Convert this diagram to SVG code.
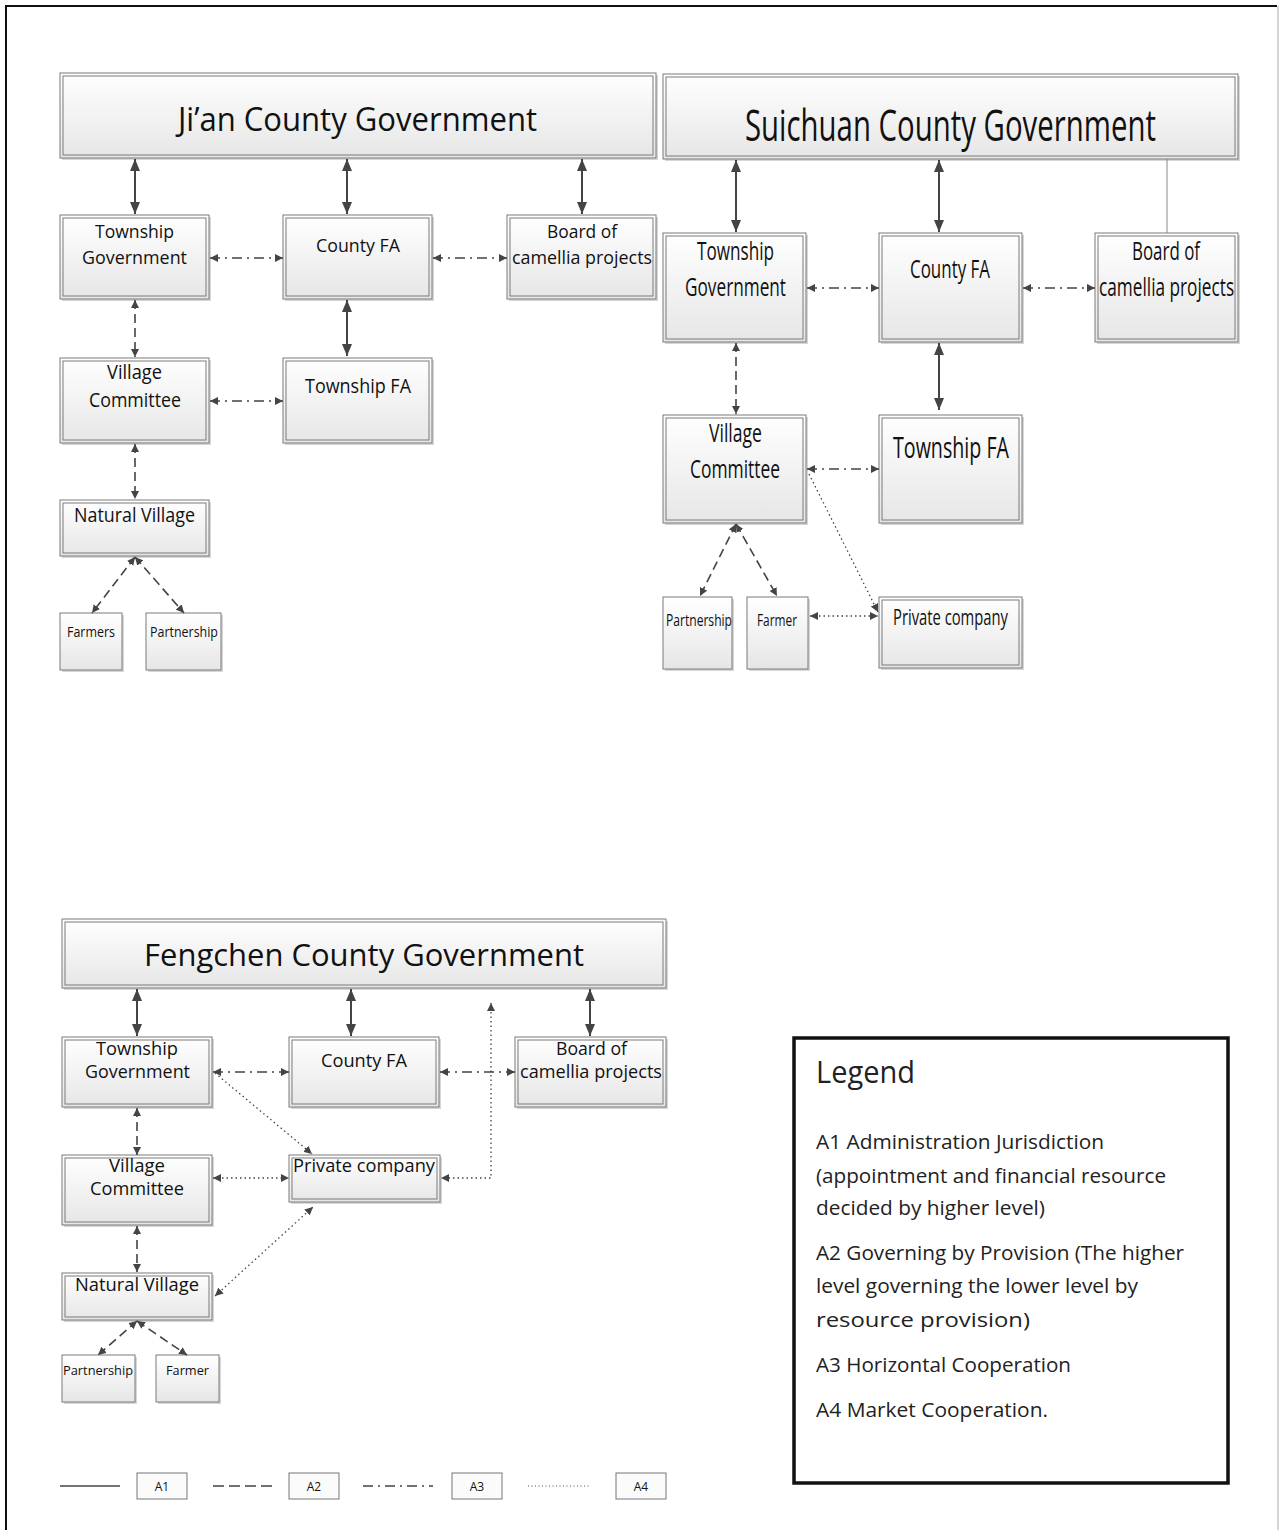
<svg xmlns="http://www.w3.org/2000/svg" width="1279" height="1530" viewBox="0 0 1279 1530">
  <defs>
    <linearGradient id="fillGrad" x1="0" y1="0" x2="0" y2="1">
      <stop offset="0" stop-color="#ffffff"/>
      <stop offset="1" stop-color="#e6e6e6"/>
    </linearGradient>
    <!-- large head for solid (A1) links -->
    <marker id="headL" viewBox="0 0 12 10" refX="12" refY="5" markerWidth="12" markerHeight="10" markerUnits="userSpaceOnUse" orient="auto-start-reverse">
      <path d="M0,0 L12,5 L0,10 z" fill="#444"/>
    </marker>
    <!-- small head for dashed / dash-dot / dotted links -->
    <marker id="headS" viewBox="0 0 8 8" refX="8" refY="4" markerWidth="8" markerHeight="8" markerUnits="userSpaceOnUse" orient="auto-start-reverse">
      <path d="M0,0 L8,4 L0,8 z" fill="#444"/>
    </marker>
    <style>
      .sh { fill: #d6d6d6; }
      .o { fill: url(#fillGrad); stroke: #7a7a7a; stroke-width: 1; }
      .i { fill: none; stroke: #7a7a7a; stroke-width: 1; }
      .t { font-family: "Open Sans", "Noto Sans", "DejaVu Sans", sans-serif; fill: #111; }
      .lg { font-family: "Open Sans", "Noto Sans", "DejaVu Sans", sans-serif; fill: #222; }
      .c { text-anchor: middle; }
      .a1 { stroke: #444; stroke-width: 2; fill: none; }
      .a2 { stroke: #444; stroke-width: 1.6; fill: none; stroke-dasharray: 9 5; }
      .a3 { stroke: #444; stroke-width: 1.4; fill: none; stroke-dasharray: 10 5 2 5; }
      .a4 { stroke: #444; stroke-width: 1.3; fill: none; stroke-dasharray: 1.5 3; }
      .hL { marker-start: url(#headL); marker-end: url(#headL); }
      .hS { marker-start: url(#headS); marker-end: url(#headS); }
      .eS { marker-end: url(#headS); }
    </style>
  </defs>

  <rect x="0" y="0" width="1279" height="1530" fill="#ffffff"/>
  <!-- page frame -->
  <path d="M6,1530 V6 H1277" fill="none" stroke="#111" stroke-width="2"/>
  <path d="M1278,6 V1530" fill="none" stroke="#aaa" stroke-width="1"/>

  <!-- ===================== Ji'an ===================== -->
  <g id="jian-county-gov">
    <rect class="sh" x="62" y="75" width="596" height="85"/>
    <rect class="o" x="60" y="73" width="596" height="85"/>
    <rect class="i" x="63" y="76" width="590" height="79"/>
    <text class="t" x="178" y="131" font-size="32" textLength="359" lengthAdjust="spacingAndGlyphs">Ji’an County Government</text>
  </g>
  <g id="jian-township-gov">
    <rect class="sh" x="62" y="217" width="149" height="84"/>
    <rect class="o" x="60" y="215" width="149" height="84"/>
    <rect class="i" x="63" y="218" width="143" height="78"/>
    <text class="t" x="95" y="238" font-size="19" textLength="79" lengthAdjust="spacingAndGlyphs">Township</text>
    <text class="t" x="82" y="264" font-size="19" textLength="105" lengthAdjust="spacingAndGlyphs">Government</text>
  </g>
  <g id="jian-county-fa">
    <rect class="sh" x="285" y="217" width="149" height="84"/>
    <rect class="o" x="283" y="215" width="149" height="84"/>
    <rect class="i" x="286" y="218" width="143" height="78"/>
    <text class="t" x="316" y="252" font-size="19" textLength="84" lengthAdjust="spacingAndGlyphs">County FA</text>
  </g>
  <g id="jian-board">
    <rect class="sh" x="509" y="217" width="149" height="84"/>
    <rect class="o" x="507" y="215" width="149" height="84"/>
    <rect class="i" x="510" y="218" width="143" height="78"/>
    <text class="t" x="547" y="238" font-size="19" textLength="70" lengthAdjust="spacingAndGlyphs">Board of</text>
    <text class="t" x="512" y="264" font-size="19" textLength="140" lengthAdjust="spacingAndGlyphs">camellia projects</text>
  </g>
  <g id="jian-village-committee">
    <rect class="sh" x="62" y="360" width="149" height="85"/>
    <rect class="o" x="60" y="358" width="149" height="85"/>
    <rect class="i" x="63" y="361" width="143" height="79"/>
    <text class="t" x="107" y="379" font-size="20" textLength="55" lengthAdjust="spacingAndGlyphs">Village</text>
    <text class="t" x="89" y="407" font-size="20" textLength="92" lengthAdjust="spacingAndGlyphs">Committee</text>
  </g>
  <g id="jian-township-fa">
    <rect class="sh" x="285" y="360" width="149" height="85"/>
    <rect class="o" x="283" y="358" width="149" height="85"/>
    <rect class="i" x="286" y="361" width="143" height="79"/>
    <text class="t" x="305" y="393" font-size="20" textLength="106" lengthAdjust="spacingAndGlyphs">Township FA</text>
  </g>
  <g id="jian-natural-village">
    <rect class="sh" x="62" y="502" width="149" height="56"/>
    <rect class="o" x="60" y="500" width="149" height="56"/>
    <rect class="i" x="63" y="503" width="143" height="50"/>
    <text class="t" x="74" y="522" font-size="20" textLength="121" lengthAdjust="spacingAndGlyphs">Natural Village</text>
  </g>
  <g id="jian-farmers">
    <rect class="sh" x="62" y="615" width="62" height="57"/>
    <rect class="o" x="60" y="613" width="62" height="57"/>
    <text class="t" x="67" y="637" font-size="14" textLength="48" lengthAdjust="spacingAndGlyphs">Farmers</text>
  </g>
  <g id="jian-partnership">
    <rect class="sh" x="148" y="615" width="75" height="57"/>
    <rect class="o" x="146" y="613" width="75" height="57"/>
    <text class="t" x="150" y="637" font-size="14" textLength="68" lengthAdjust="spacingAndGlyphs">Partnership</text>
  </g>

  <!-- ===================== Suichuan ===================== -->
  <g id="suichuan-county-gov">
    <rect class="sh" x="665" y="76" width="575" height="85"/>
    <rect class="o" x="663" y="74" width="575" height="85"/>
    <rect class="i" x="666" y="77" width="569" height="79"/>
    <text class="t" transform="matrix(0.7 0 0 1 745 141)" x="0" y="0" font-size="43" textLength="587" lengthAdjust="spacingAndGlyphs">Suichuan County Government</text>
  </g>
  <g id="suichuan-township-gov">
    <rect class="sh" x="665" y="235" width="143" height="109"/>
    <rect class="o" x="663" y="233" width="143" height="109"/>
    <rect class="i" x="666" y="236" width="137" height="103"/>
    <text class="t" x="697" y="260" font-size="25" textLength="77" lengthAdjust="spacingAndGlyphs">Township</text>
    <text class="t" x="685" y="296" font-size="25" textLength="101" lengthAdjust="spacingAndGlyphs">Government</text>
  </g>
  <g id="suichuan-county-fa">
    <rect class="sh" x="881" y="235" width="143" height="109"/>
    <rect class="o" x="879" y="233" width="143" height="109"/>
    <rect class="i" x="882" y="236" width="137" height="103"/>
    <text class="t" x="910" y="278" font-size="25" textLength="80" lengthAdjust="spacingAndGlyphs">County FA</text>
  </g>
  <g id="suichuan-board">
    <rect class="sh" x="1097" y="235" width="143" height="109"/>
    <rect class="o" x="1095" y="233" width="143" height="109"/>
    <rect class="i" x="1098" y="236" width="137" height="103"/>
    <text class="t" x="1132" y="260" font-size="25" textLength="68" lengthAdjust="spacingAndGlyphs">Board of</text>
    <text class="t" transform="matrix(0.7 0 0 1 1099 296)" x="0" y="0" font-size="25" textLength="193" lengthAdjust="spacingAndGlyphs">camellia projects</text>
  </g>
  <g id="suichuan-village-committee">
    <rect class="sh" x="665" y="417" width="143" height="108"/>
    <rect class="o" x="663" y="415" width="143" height="108"/>
    <rect class="i" x="666" y="418" width="137" height="102"/>
    <text class="t" x="709" y="442" font-size="25" textLength="53" lengthAdjust="spacingAndGlyphs">Village</text>
    <text class="t" x="690" y="478" font-size="25" textLength="90" lengthAdjust="spacingAndGlyphs">Committee</text>
  </g>
  <g id="suichuan-township-fa">
    <rect class="sh" x="881" y="417" width="143" height="108"/>
    <rect class="o" x="879" y="415" width="143" height="108"/>
    <rect class="i" x="882" y="418" width="137" height="102"/>
    <text class="t" x="893" y="458" font-size="29" textLength="116" lengthAdjust="spacingAndGlyphs">Township FA</text>
  </g>
  <g id="suichuan-partnership">
    <rect class="sh" x="665" y="599" width="69" height="72"/>
    <rect class="o" x="663" y="597" width="69" height="72"/>
    <text class="t" x="666" y="626" font-size="17" textLength="66" lengthAdjust="spacingAndGlyphs">Partnership</text>
  </g>
  <g id="suichuan-farmer">
    <rect class="sh" x="749" y="599" width="61" height="72"/>
    <rect class="o" x="747" y="597" width="61" height="72"/>
    <text class="t" x="757" y="626" font-size="17" textLength="40" lengthAdjust="spacingAndGlyphs">Farmer</text>
  </g>
  <g id="suichuan-private-company">
    <rect class="sh" x="881" y="599" width="143" height="71"/>
    <rect class="o" x="879" y="597" width="143" height="71"/>
    <rect class="i" x="882" y="600" width="137" height="65"/>
    <text class="t" x="893" y="625" font-size="22" textLength="115" lengthAdjust="spacingAndGlyphs">Private company</text>
  </g>

  <!-- ===================== Fengchen ===================== -->
  <g id="fengchen-county-gov">
    <rect class="sh" x="64" y="921" width="604" height="69"/>
    <rect class="o" x="62" y="919" width="604" height="69"/>
    <rect class="i" x="65" y="922" width="598" height="63"/>
    <text class="t" x="144" y="966" font-size="31" textLength="440" lengthAdjust="spacingAndGlyphs">Fengchen County Government</text>
  </g>
  <g id="fengchen-township-gov">
    <rect class="sh" x="64" y="1039" width="150" height="70"/>
    <rect class="o" x="62" y="1037" width="150" height="70"/>
    <rect class="i" x="65" y="1040" width="144" height="64"/>
    <text class="t" x="96" y="1055" font-size="17.5" textLength="82" lengthAdjust="spacingAndGlyphs">Township</text>
    <text class="t" x="85" y="1078" font-size="17.5" textLength="105" lengthAdjust="spacingAndGlyphs">Government</text>
  </g>
  <g id="fengchen-county-fa">
    <rect class="sh" x="291" y="1039" width="150" height="70"/>
    <rect class="o" x="289" y="1037" width="150" height="70"/>
    <rect class="i" x="292" y="1040" width="144" height="64"/>
    <text class="t" x="321" y="1067" font-size="17.5" textLength="86" lengthAdjust="spacingAndGlyphs">County FA</text>
  </g>
  <g id="fengchen-board">
    <rect class="sh" x="517" y="1039" width="151" height="70"/>
    <rect class="o" x="515" y="1037" width="151" height="70"/>
    <rect class="i" x="518" y="1040" width="145" height="64"/>
    <text class="t" x="556" y="1055" font-size="17.5" textLength="71" lengthAdjust="spacingAndGlyphs">Board of</text>
    <text class="t" x="520" y="1078" font-size="17.5" textLength="142" lengthAdjust="spacingAndGlyphs">camellia projects</text>
  </g>
  <g id="fengchen-village-committee">
    <rect class="sh" x="64" y="1157" width="150" height="70"/>
    <rect class="o" x="62" y="1155" width="150" height="70"/>
    <rect class="i" x="65" y="1158" width="144" height="64"/>
    <text class="t" x="109" y="1172" font-size="17.5" textLength="56" lengthAdjust="spacingAndGlyphs">Village</text>
    <text class="t" x="90" y="1195" font-size="17.5" textLength="94" lengthAdjust="spacingAndGlyphs">Committee</text>
  </g>
  <g id="fengchen-private-company">
    <rect class="sh" x="291" y="1157" width="151" height="47"/>
    <rect class="o" x="289" y="1155" width="151" height="47"/>
    <rect class="i" x="292" y="1158" width="145" height="41"/>
    <text class="t" x="293" y="1172" font-size="17.5" textLength="142" lengthAdjust="spacingAndGlyphs">Private company</text>
  </g>
  <g id="fengchen-natural-village">
    <rect class="sh" x="64" y="1275" width="150" height="47"/>
    <rect class="o" x="62" y="1273" width="150" height="47"/>
    <rect class="i" x="65" y="1276" width="144" height="41"/>
    <text class="t" x="75" y="1291" font-size="17.5" textLength="124" lengthAdjust="spacingAndGlyphs">Natural Village</text>
  </g>
  <g id="fengchen-partnership">
    <rect class="sh" x="64" y="1357" width="73" height="47"/>
    <rect class="o" x="62" y="1355" width="73" height="47"/>
    <text class="t" x="63" y="1375" font-size="13" textLength="70" lengthAdjust="spacingAndGlyphs">Partnership</text>
  </g>
  <g id="fengchen-farmer">
    <rect class="sh" x="158" y="1357" width="63" height="47"/>
    <rect class="o" x="156" y="1355" width="63" height="47"/>
    <text class="t" x="166" y="1375" font-size="13" textLength="43" lengthAdjust="spacingAndGlyphs">Farmer</text>
  </g>

  <!-- ===================== connectors ===================== -->
  <g id="connectors">
    <!-- Ji'an -->
    <line class="a1 hL" x1="135" y1="159" x2="135" y2="214"/>
    <line class="a1 hL" x1="347" y1="159" x2="347" y2="214"/>
    <line class="a1 hL" x1="582" y1="159" x2="582" y2="214"/>
    <line class="a3 hS" x1="210" y1="258" x2="283" y2="258"/>
    <line class="a3 hS" x1="433" y1="258" x2="507" y2="258"/>
    <line class="a1 hL" x1="347" y1="300" x2="347" y2="356"/>
    <line class="a2 hS" x1="135" y1="300" x2="135" y2="357"/>
    <line class="a3 hS" x1="210" y1="401" x2="283" y2="401"/>
    <line class="a2 hS" x1="135" y1="444" x2="135" y2="499"/>
    <line class="a2 hS" x1="135" y1="557" x2="92" y2="613"/>
    <line class="a2 hS" x1="135" y1="557" x2="184" y2="613"/>

    <!-- Suichuan -->
    <line class="a1 hL" x1="736" y1="160" x2="736" y2="232"/>
    <line class="a1 hL" x1="939" y1="160" x2="939" y2="232"/>
    <line x1="1167" y1="159" x2="1167" y2="233" stroke="#888" stroke-width="1"/>
    <line class="a3 hS" x1="807" y1="288" x2="879" y2="288"/>
    <line class="a3 hS" x1="1023" y1="288" x2="1095" y2="288"/>
    <line class="a1 hL" x1="939" y1="343" x2="939" y2="410"/>
    <line class="a2 hS" x1="736" y1="343" x2="736" y2="414"/>
    <line class="a3 hS" x1="807" y1="469" x2="879" y2="469"/>
    <line class="a4 eS" x1="809" y1="474" x2="878" y2="612"/>
    <line class="a4 hS" x1="810" y1="616" x2="878" y2="616"/>
    <line class="a2 hS" x1="736" y1="524" x2="700" y2="596"/>
    <line class="a2 hS" x1="736" y1="524" x2="777" y2="596"/>

    <!-- Fengchen -->
    <line class="a1 hL" x1="137" y1="989" x2="137" y2="1036"/>
    <line class="a1 hL" x1="351" y1="989" x2="351" y2="1036"/>
    <line class="a1 hL" x1="590" y1="989" x2="590" y2="1036"/>
    <polyline class="a4 hS" points="491,1003 491,1178 441,1178"/>
    <line class="a3 hS" x1="213" y1="1072" x2="289" y2="1072"/>
    <line class="a3 hS" x1="440" y1="1072" x2="515" y2="1072"/>
    <line class="a4 eS" x1="215" y1="1073" x2="312" y2="1154"/>
    <line class="a2 hS" x1="137" y1="1108" x2="137" y2="1155"/>
    <line class="a4 hS" x1="213" y1="1178" x2="289" y2="1178"/>
    <line class="a2 hS" x1="137" y1="1226" x2="137" y2="1272"/>
    <line class="a4 hS" x1="215" y1="1296" x2="313" y2="1207"/>
    <line class="a2 hS" x1="137" y1="1321" x2="98" y2="1355"/>
    <line class="a2 hS" x1="137" y1="1321" x2="187" y2="1355"/>
  </g>

  <!-- ===================== line-style key ===================== -->
  <g id="line-key">
    <line x1="60" y1="1486" x2="120" y2="1486" stroke="#444" stroke-width="1.3"/>
    <rect x="137" y="1473" width="50" height="26" fill="#fbfbfb" stroke="#777" stroke-width="1"/>
    <text class="t c" x="162" y="1491" font-size="12">A1</text>
    <line x1="213" y1="1486" x2="277" y2="1486" stroke="#444" stroke-width="1.3" stroke-dasharray="11 5"/>
    <rect x="289" y="1473" width="50" height="26" fill="#fbfbfb" stroke="#777" stroke-width="1"/>
    <text class="t c" x="314" y="1491" font-size="12">A2</text>
    <line x1="363" y1="1486" x2="433" y2="1486" stroke="#444" stroke-width="1.3" stroke-dasharray="10 5 2 5"/>
    <rect x="452" y="1473" width="50" height="26" fill="#fbfbfb" stroke="#777" stroke-width="1"/>
    <text class="t c" x="477" y="1491" font-size="12">A3</text>
    <line x1="528" y1="1486" x2="589" y2="1486" stroke="#555" stroke-width="1.1" stroke-dasharray="1 2.5"/>
    <rect x="616" y="1473" width="50" height="26" fill="#fbfbfb" stroke="#777" stroke-width="1"/>
    <text class="t c" x="641" y="1491" font-size="12">A4</text>
  </g>

  <!-- ===================== legend ===================== -->
  <g id="legend">
    <rect x="794" y="1038" width="434" height="445" fill="#ffffff" stroke="#111" stroke-width="3.5"/>
    <text class="lg" x="816" y="1083" font-size="31" textLength="99" lengthAdjust="spacingAndGlyphs">Legend</text>
    <text class="lg" x="816" y="1149" font-size="20" textLength="288" lengthAdjust="spacingAndGlyphs">A1 Administration Jurisdiction</text>
    <text class="lg" x="816" y="1183" font-size="20" textLength="350" lengthAdjust="spacingAndGlyphs">(appointment and financial resource</text>
    <text class="lg" x="816" y="1215" font-size="20" textLength="229" lengthAdjust="spacingAndGlyphs">decided by higher level)</text>
    <text class="lg" x="816" y="1260" font-size="20" textLength="368" lengthAdjust="spacingAndGlyphs">A2 Governing by Provision (The higher</text>
    <text class="lg" x="816" y="1293" font-size="20" textLength="322" lengthAdjust="spacingAndGlyphs">level governing the lower level by</text>
    <text class="lg" x="816" y="1327" font-size="20" textLength="214" lengthAdjust="spacingAndGlyphs">resource provision)</text>
    <text class="lg" x="816" y="1372" font-size="20" textLength="255" lengthAdjust="spacingAndGlyphs">A3 Horizontal Cooperation</text>
    <text class="lg" x="816" y="1417" font-size="20" textLength="232" lengthAdjust="spacingAndGlyphs">A4 Market Cooperation.</text>
  </g>
</svg>
